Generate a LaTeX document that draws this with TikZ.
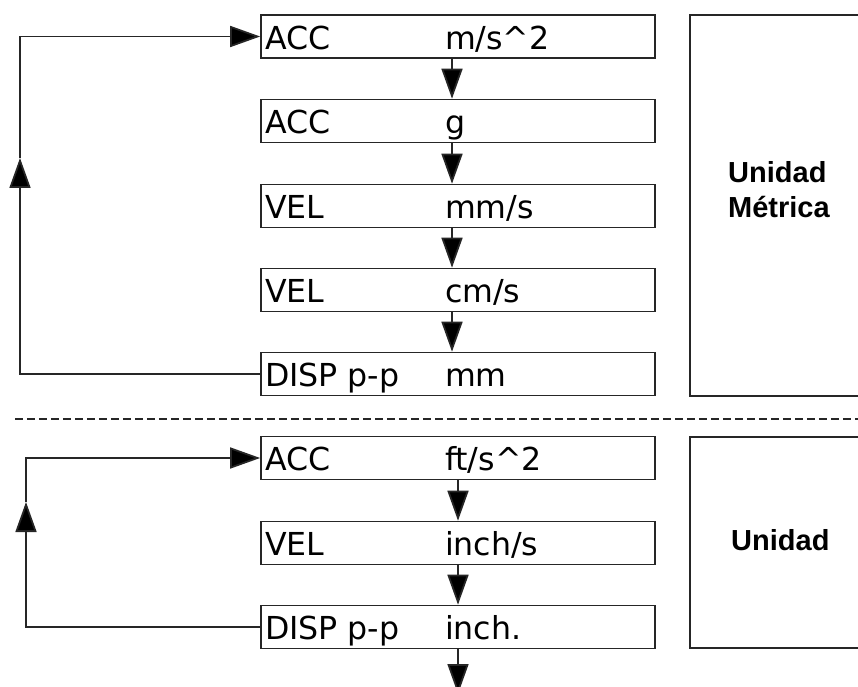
\documentclass[tikz,border=0pt]{standalone}
\usepackage{fontspec}
\setmainfont{DejaVu Sans}
\newfontfamily\sidefont{Liberation Sans}
\usetikzlibrary{arrows.meta}

\newcommand{\unitrow}[2]{\makebox[7.72cm][l]{\makebox[3.6cm][l]{#1}#2}}

\begin{document}
\begin{tikzpicture}[x=0.02cm, y=-0.02cm,
  line/.style={draw=black!85, line width=1pt},
  unitbox/.style={line, rectangle, minimum width=7.88cm, inner xsep=0.07cm, inner ysep=0pt, text height=19.4pt, text depth=5pt, font=\fontsize{18}{20}\selectfont},
  tip/.style={line, -{Triangle[length=0.6cm, width=0.42cm, fill=black]}},
  sidetext/.style={font=\sidefont\bfseries\fontsize{16.5}{20}\selectfont, align=left, anchor=west}]

\useasboundingbox ( 0, 0 ) rectangle ( 858, 686 );

% Metric chain
\node [unitbox] (m1) at ( 458, 36.5 ) {\unitrow{ACC}{m/s\textasciicircum 2}};
\node [unitbox] (m2) at ( 458, 121 ) {\unitrow{ACC}{g}};
\node [unitbox] (m3) at ( 458, 206 ) {\unitrow{VEL}{mm/s}};
\node [unitbox] (m4) at ( 458, 290 ) {\unitrow{VEL}{cm/s}};
\node [unitbox] (m5) at ( 458, 374 ) {\unitrow{DISP p-p}{mm}};

\foreach \a/\b in {m1/m2, m2/m3, m3/m4, m4/m5}
  \draw [tip] ([xshift=-0.12cm]\a.south) -- ([xshift=-0.12cm]\b.north);

% Metric loop
\coordinate (mup) at ( 20, 158 );
\draw [tip] (m5.west) -| (mup);
\draw [tip] (mup) |- (m1.west);

% Metric label
\draw [line] ( 690, 15 ) rectangle ( 880, 396 );
\node [sidetext] (metric) at ( 722, 190 ) {Unidad\\Métrica};

% Separator
\draw [draw=black!85, line width=1.4pt, dash pattern=on 0.16cm off 0.08cm] ( 15, 419 ) -- ( 858, 419 );

% Imperial chain
\node [unitbox] (b1) at ( 458, 458 ) {\unitrow{ACC}{ft/s\textasciicircum 2}};
\node [unitbox] (b2) at ( 458, 543 ) {\unitrow{VEL}{inch/s}};
\node [unitbox] (b3) at ( 458, 627 ) {\unitrow{DISP p-p}{inch.}};

\draw [tip] (b1.south) -- (b2.north);
\draw [tip] (b2.south) -- (b3.north);

\coordinate (bend) at ( 458, 694 );
\draw [tip] (b3.south) -- (bend);

% Imperial loop
\coordinate (bup) at ( 26, 502 );
\draw [tip] (b3.west) -| (bup);
\draw [tip] (bup) |- (b1.west);

% Imperial label
\draw [line] ( 690, 437 ) rectangle ( 880, 648 );
\node [sidetext] (imperial) at ( 725, 540 ) {Unidad};

\end{tikzpicture}
\end{document}
